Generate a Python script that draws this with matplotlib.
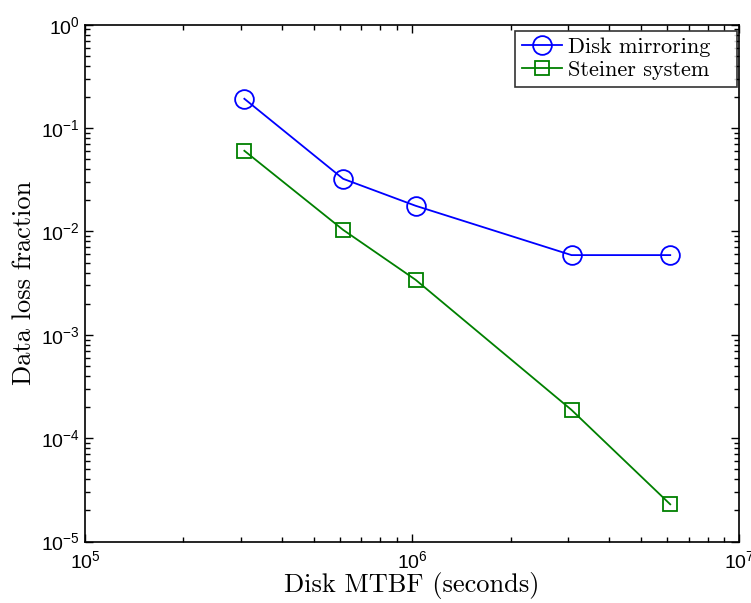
import math
import matplotlib
matplotlib.use("Agg")
import matplotlib.pyplot as plt
from matplotlib.ticker import FuncFormatter, LogLocator, NullFormatter

# Data
mtbf = [3.07e5, 6.15e5, 1.025e6, 3.07e6, 6.15e6]
mirroring = [0.192, 0.0323, 0.0177, 0.0059, 0.0059]
steiner = [0.0603, 0.01036, 0.0034, 1.875e-4, 2.29e-5]
series_labels = ["Disk mirroring", "Steiner system"]
xlabel = "Disk MTBF (seconds)"
ylabel = "Data loss fraction"

plt.rcParams["mathtext.fontset"] = "custom"
plt.rcParams["mathtext.rm"] = "Liberation Sans"
plt.rcParams["mathtext.it"] = "Liberation Sans:italic"
plt.rcParams["mathtext.bf"] = "Liberation Sans:bold"

fig = plt.figure(figsize=(7.51, 6.03), dpi=100)
ax = fig.add_axes([85 / 751, 1 - 541.5 / 603, (739.3 - 85) / 751, (541.5 - 24.7) / 603])

ax.plot(mtbf, mirroring, color="#0000ff", marker="o", markersize=13.5,
        markerfacecolor="none", markeredgewidth=1.3, linewidth=1.3,
        label=series_labels[0])
ax.plot(mtbf, steiner, color="#008000", marker="s", markersize=10.5,
        markerfacecolor="none", markeredgewidth=1.3, linewidth=1.3,
        label=series_labels[1])

ax.set_xscale("log")
ax.set_yscale("log")
ax.set_xlim(1e5, 1e7)
ax.set_ylim(1e-5, 1e0)

fmt = FuncFormatter(lambda v, p: r"$10^{%d}$" % round(math.log10(v)))
ax.xaxis.set_major_formatter(fmt)
ax.yaxis.set_major_formatter(fmt)
ax.xaxis.set_minor_locator(LogLocator(base=10, subs=range(2, 10)))
ax.yaxis.set_minor_locator(LogLocator(base=10, subs=range(2, 10)))
ax.xaxis.set_minor_formatter(NullFormatter())
ax.yaxis.set_minor_formatter(NullFormatter())

ax.tick_params(which="both", direction="in", top=True, right=True, labelsize=14,
               width=1.0)
ax.tick_params(which="major", length=6)
ax.tick_params(which="minor", length=3.5)
ax.tick_params(axis="x", pad=6)
for s in ax.spines.values():
    s.set_linewidth(1.2)

ax.set_xlabel(xlabel, fontfamily="cmr10", fontsize=19, labelpad=0)
ax.set_ylabel(ylabel, fontfamily="cmr10", fontsize=19, labelpad=4)

leg = ax.legend(loc="upper left", bbox_to_anchor=(0.657, 0.5, 0.3396, 0.4878),
                mode="expand", prop={"family": "cmr10", "size": 16},
                fancybox=False, frameon=True, edgecolor="black",
                borderaxespad=0.0, handlelength=1.8, borderpad=0.3,
                labelspacing=0.15, handletextpad=0.3)
leg.get_frame().set_linewidth(1.2)

fig.savefig("out.png", dpi=100)
